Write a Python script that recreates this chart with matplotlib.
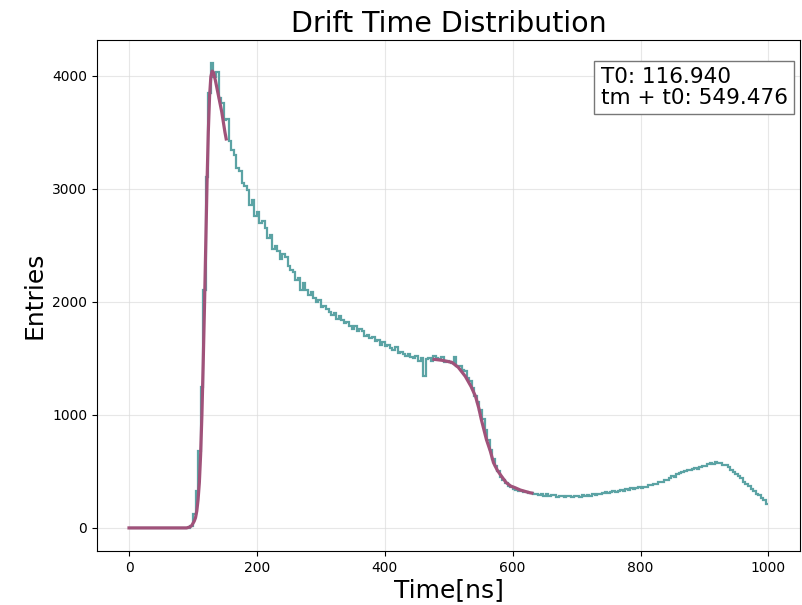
import numpy as np
import matplotlib.pyplot as plt

# histogram of drift times, 4 ns bins from 0 to 1000 ns
bin_edges = np.arange(0, 1004, 4)
counts = [
    0, 0, 0, 0, 0, 0, 0, 0, 0, 0,
    0, 0, 0, 0, 0, 0, 0, 0, 0, 0,
    0, 0, 0, 0, 15, 120, 330, 680, 1250, 2100,
    3100, 3850, 4110, 3990, 4030, 3800, 3760, 3610, 3620, 3420,
    3340, 3300, 3180, 3160, 3050, 3020, 2990, 2860, 2900, 2760,
    2790, 2700, 2710, 2650, 2560, 2590, 2470, 2490, 2450, 2380,
    2420, 2400, 2320, 2280, 2260, 2190, 2210, 2100, 2170, 2100,
    2060, 2090, 2030, 2000, 2020, 1950, 1960, 1940, 1910, 1880,
    1900, 1850, 1870, 1840, 1810, 1820, 1790, 1760, 1790, 1740,
    1760, 1740, 1700, 1710, 1680, 1690, 1650, 1660, 1620, 1640,
    1610, 1620, 1590, 1570, 1600, 1550, 1560, 1540, 1520, 1540,
    1510, 1500, 1520, 1480, 1500, 1340, 1490, 1500, 1480, 1520,
    1500, 1490, 1510, 1470, 1480, 1470, 1460, 1510, 1430, 1430,
    1400, 1390, 1330, 1300, 1240, 1170, 1110, 1040, 960, 870,
    780, 690, 610, 545, 505, 450, 420, 400, 372, 358,
    348, 338, 325, 330, 316, 320, 305, 310, 300, 302,
    292, 296, 285, 298, 280, 288, 290, 275, 284, 280,
    270, 284, 278, 272, 280, 286, 270, 288, 282, 290,
    286, 296, 292, 304, 300, 312, 318, 310, 322, 326,
    318, 330, 334, 328, 340, 336, 352, 346, 350, 362,
    350, 364, 362, 376, 382, 390, 388, 408, 410, 420,
    426, 440, 458, 452, 474, 484, 492, 500, 512, 514,
    518, 530, 524, 542, 548, 544, 562, 570, 566, 584,
    570, 578, 560, 552, 540, 516, 498, 480, 456, 438,
    410, 384, 372, 342, 330, 300, 290, 266, 250, 210,
]

# fitted rising edge (t0) and falling edge (tm)
fit_rise_t = [0, 90, 95, 98, 100, 102, 104, 106, 108, 110, 112, 114, 116, 118,
              120, 122, 124, 126, 128, 130, 132, 135, 140, 145, 150, 152]
fit_rise_y = [0, 0, 8, 20, 40, 60, 90, 150, 250, 400, 650, 1000, 1450, 1950,
              2500, 3050, 3500, 3820, 3990, 4040, 4030, 3960, 3820, 3680, 3500, 3440]
fit_fall_t = [477, 490, 505, 515, 526, 535, 542, 547, 551, 555, 559, 565, 570,
              576, 583, 590, 597, 604, 612, 620, 627, 630]
fit_fall_y = [1491, 1482, 1464, 1420, 1340, 1250, 1162, 1060, 958, 870, 781, 680, 577,
              510, 453, 400, 370, 355, 335, 322, 311, 308]

t0 = 116.940
tm_t0 = 549.476

fig = plt.figure(figsize=(8.02, 6.05), dpi=100)
ax = fig.add_axes([0.121, 0.089, 0.877, 0.845])

ax.stairs(counts, bin_edges, baseline=None, color='#5ba3a4', linewidth=1.6)
ax.plot(fit_rise_t, fit_rise_y, color='#a0527a', linewidth=2.3)
ax.plot(fit_fall_t, fit_fall_y, color='#a0527a', linewidth=2.3)

ax.set_title('Drift Time Distribution', fontsize=20.5)
ax.set_xlabel('Time[ns]', fontsize=18, labelpad=2)
ax.set_ylabel('Entries', fontsize=18)
ax.tick_params(labelsize=10)
ax.grid(True, color='#dddddd', linewidth=0.8, alpha=0.7)
ax.set_axisbelow(True)

ax.text(0.982, 0.947, f'T0: {t0:.3f}\ntm + t0: {tm_t0:.3f}',
        transform=ax.transAxes, ha='right', va='top', fontsize=15.5,
        multialignment='left', linespacing=1.05,
        bbox=dict(boxstyle='square,pad=0.3', facecolor='white', edgecolor='#777777'))

fig.savefig('out.png', dpi=100)
